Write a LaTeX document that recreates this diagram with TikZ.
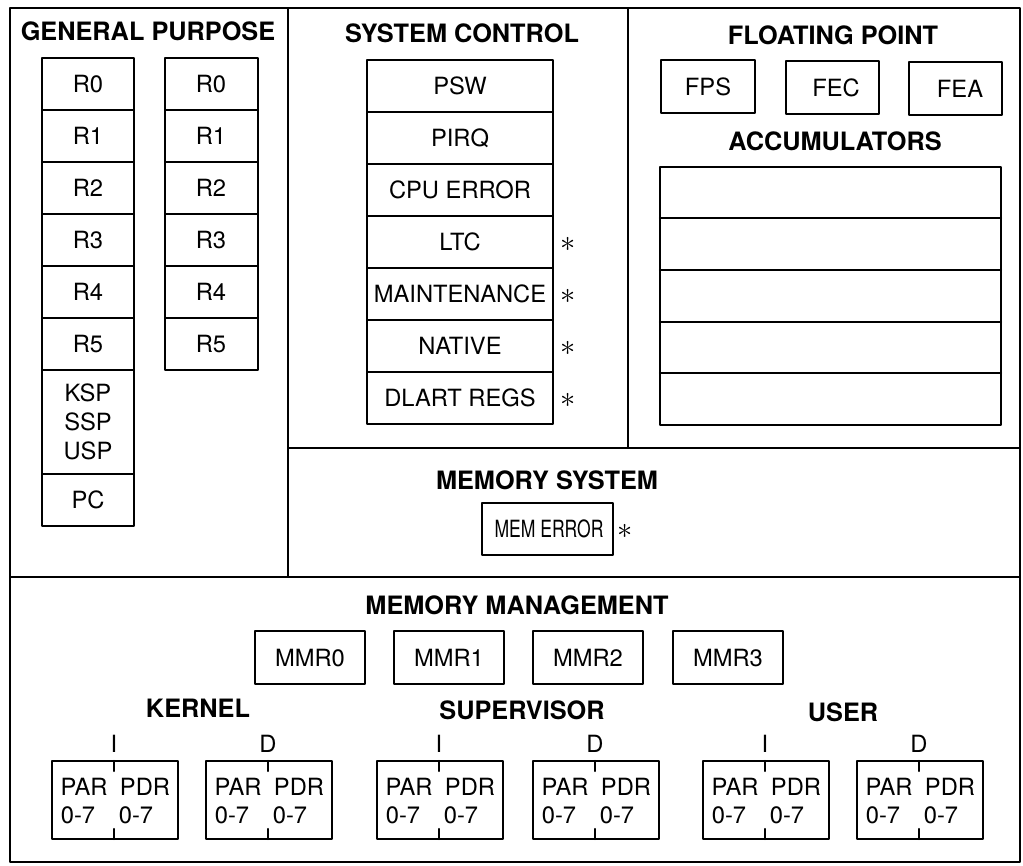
\documentclass[tikz,border=0pt]{standalone}
\usepackage{fontspec}
\usepackage{graphicx}
\setmainfont{TeX Gyre Heros}
\begin{document}
\begin{tikzpicture}[x=0.02cm, y=-0.02cm, line join=round, line cap=round,
	font=\fontsize{13.5}{16.4}\selectfont]
	\tikzset{title/.style={font=\fontsize{14.4}{16}\selectfont\bfseries},
		regbox/.style={line width=1.4pt},
		frame/.style={line width=1pt},
		starmark/.style={font=\fontsize{17}{17}\selectfont}}
	\useasboundingbox (0,0) rectangle (1023,865);
	% frame
	\draw[frame] (10,8) rectangle (1020,862);
	\draw[frame] (288,8)--(288,577) (10,577)--(1020,577);
	\draw[frame] (628,8)--(628,448) (288,448)--(1020,448);
	% general purpose
	\node[title] (gptitle) at (148,31) {GENERAL PURPOSE};
	\foreach \t [count=\i from 0] in {R0,R1,R2,R3,R4,R5} {
		\draw[regbox] (42,58+52*\i) rectangle (134,110+52*\i);
		\draw[regbox] (165,58+52*\i) rectangle (258,110+52*\i);
		\node (gpa\i) at (88,84+52*\i) {\t};
		\node (gpb\i) at (211,84+52*\i) {\t};
	}
	\draw[regbox] (42,370) rectangle (134,474);
	\draw[regbox] (42,474) rectangle (134,526);
	\node[align=center] (sp) at (88,422) {KSP\\SSP\\USP};
	\node (pc) at (88,500) {PC};
	% system control
	\node[title] (sctitle) at (462,33) {SYSTEM CONTROL};
	\foreach \t [count=\i from 0] in {PSW,PIRQ,CPU ERROR,LTC,MAINTENANCE,NATIVE,DLART REGS} {
		\draw[regbox] (367,60+52*\i) rectangle (553,112+52*\i);
		\node (sc\i) at (460,86+52*\i) {\t};
	}
	\foreach \i in {3,...,6}
		\node[starmark] (star\i) at (568,88+52*\i) {$\ast$};
	% floating point
	\node[title] (fptitle) at (833,35) {FLOATING POINT};
	\draw[regbox] (661,60) rectangle (755,113);
	\draw[regbox] (786,61) rectangle (879,114);
	\draw[regbox] (909,62) rectangle (1002,115);
	\node (fps) at (708,87) {FPS};
	\node (fec) at (836,88) {FEC};
	\node (fea) at (960,89) {FEA};
	\node[title] (actitle) at (835,141) {ACCUMULATORS};
	\draw[regbox] (660,167) rectangle (1001,425);
	\foreach \y in {218,270,322,373}
		\draw[regbox] (660,\y)--(1001,\y);
	% memory system
	\node[title] (mstitle) at (547,480) {MEMORY SYSTEM};
	\draw[regbox] (482,503) rectangle (613,555);
	\node (memerr) at (549,529) {\scalebox{0.74}[1]{MEM ERROR}};
	\node[starmark] (memstar) at (625,531) {$\ast$};
	% memory management
	\node[title] (mmtitle) at (517,605) {MEMORY MANAGEMENT};
	\foreach \l [count=\i from 0] in {255,394,533,673} {
		\draw[regbox] (\l,631) rectangle (\l+110,684);
		\node (mmr\i) at (\l+55,658) {MMR\i};
	}
	\node[title] (kernel) at (198,708) {KERNEL};
	\node[title] (super) at (522,710) {SUPERVISOR};
	\node[title] (user) at (843,712) {USER};
	\foreach \l/\c/\n in {52/I/ki,206/D/kd,377/I/si,533/D/sd,703/I/ui,857/D/ud} {
		\draw[regbox] (\l,761) rectangle (\l+126,839);
		\draw[regbox] (\l+62,761)--(\l+62,771) (\l+62,829)--(\l+62,839);
		\node (sp\n) at (\l+62,744) {\c};
		\node (par\n) at (\l+32,787) {PAR};
		\node (pdr\n) at (\l+93,787) {PDR};
		\node (para\n) at (\l+26,815) {0-7};
		\node (pdra\n) at (\l+84,815) {0-7};
	}
\end{tikzpicture}
\end{document}
